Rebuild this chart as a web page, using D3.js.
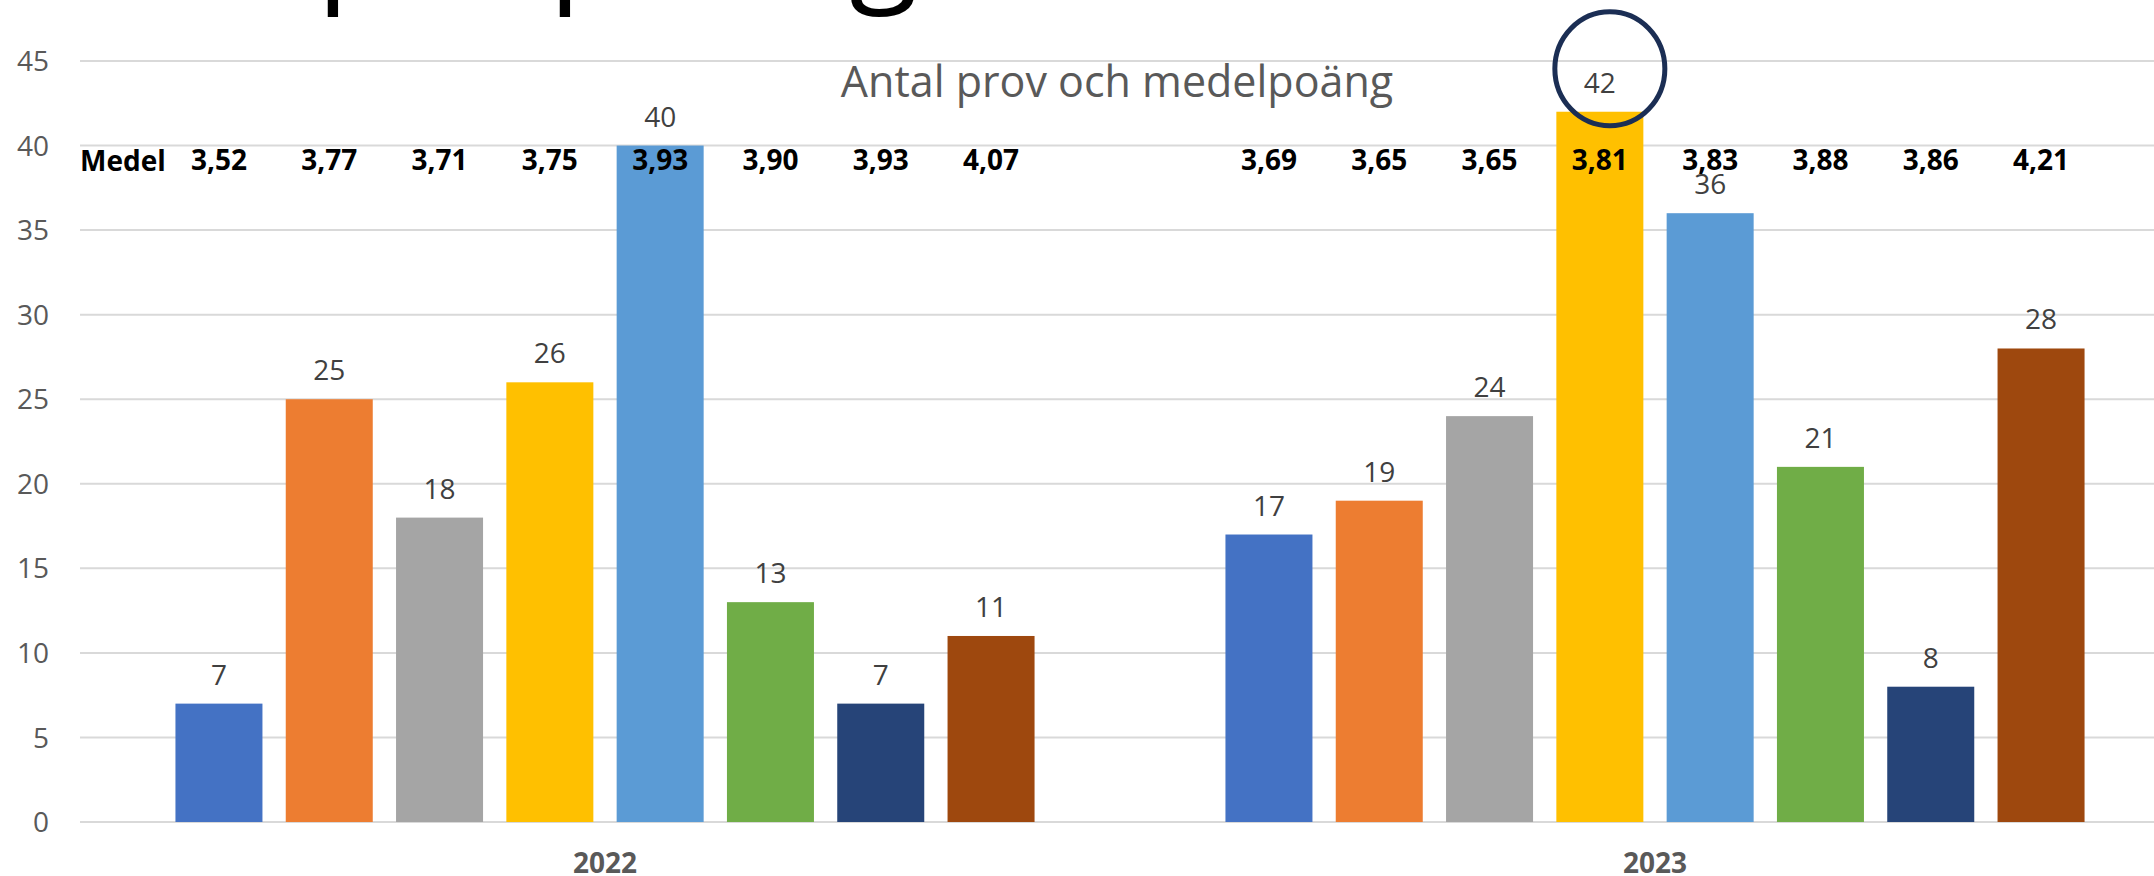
<!DOCTYPE html>
<html>
<head>
<meta charset="utf-8">
<script src="https://cdn.jsdelivr.net/npm/d3@7"></script>
<style>
  html, body { margin: 0; padding: 0; background: #ffffff; }
  svg { display: block; font-family: "Open Sans", sans-serif; }
</style>
</head>
<body>
<svg id="chart" width="2154" height="876"></svg>
<script>
// Years on the x axis
const years = ["2022", "2023"];
// Number of tests per group, one array per year
const counts2022 = [7, 25, 18, 26, 40, 13, 7, 11];
const counts2023 = [17, 19, 24, 42, 36, 21, 8, 28];
// Mean score per group, one array per year
const means2022 = ["3,52", "3,77", "3,71", "3,75", "3,93", "3,90", "3,93", "4,07"];
const means2023 = ["3,69", "3,65", "3,65", "3,81", "3,83", "3,88", "3,86", "4,21"];
// Y axis ticks
const yTicks = [0, 5, 10, 15, 20, 25, 30, 35, 40, 45];
// Bar colours, one per group
const colors = ["#4472c4", "#ed7d31", "#a5a5a5", "#ffc000", "#5b9bd5", "#70ad47", "#264478", "#9e480e"];

const countsByYear = { "2022": counts2022, "2023": counts2023 };
const meansByYear = { "2022": means2022, "2023": means2023 };
const groups = d3.range(counts2022.length);

const svg = d3.select("#chart");
const W = 2154;

// Slide heading, mostly above the visible area
const heading = svg.append("text")
  .attr("y", -13)
  .attr("font-size", 126)
  .attr("fill", "#000")
  .text("Prov per poäng");
const pIdx = "Prov per poäng".indexOf("p");
const pPos = heading.node().getStartPositionOfChar(pIdx).x;
heading.attr("x", 317 - pPos);

const y = d3.scaleLinear().domain([0, 45]).range([822, 61]);
const x0 = d3.scaleBand().domain(years).range([80, 2180]);
const x1 = d3.scaleBand().domain(groups)
  .range([83.8, 966.2]).paddingInner(0.2112).paddingOuter(0.1056);

// Gridlines
svg.append("g").selectAll("line").data(yTicks).join("line")
  .attr("x1", 80).attr("x2", W)
  .attr("y1", d => y(d)).attr("y2", d => y(d))
  .attr("stroke", "#d9d9d9").attr("stroke-width", 2);

// Y axis labels
svg.append("g").selectAll("text").data(yTicks).join("text")
  .attr("x", 49).attr("y", d => y(d)).attr("dy", "0.36em")
  .attr("text-anchor", "end").attr("font-size", 28).attr("fill", "#595959")
  .text(d => d);

// Chart title
svg.append("text")
  .attr("x", 1117).attr("y", 97)
  .attr("text-anchor", "middle").attr("font-size", 43).attr("fill", "#595959")
  .text("Antal prov och medelpoäng");

const yearG = svg.append("g").selectAll("g").data(years).join("g")
  .attr("transform", d => `translate(${x0(d)},0)`);

// Bars
yearG.selectAll("rect").data(yr => countsByYear[yr].map((v, i) => ({ v, i })))
  .join("rect")
  .attr("x", d => x1(d.i)).attr("width", x1.bandwidth())
  .attr("y", d => y(d.v)).attr("height", d => y(0) - y(d.v))
  .attr("fill", d => colors[d.i]);

// Value labels
yearG.selectAll("text.val").data(yr => countsByYear[yr].map((v, i) => ({ v, i })))
  .join("text").attr("class", "val")
  .attr("x", d => x1(d.i) + x1.bandwidth() / 2).attr("y", d => y(d.v) - 19)
  .attr("text-anchor", "middle").attr("font-size", 28).attr("fill", "#404040")
  .text(d => d.v);

// Mean score row
yearG.selectAll("text.mean").data(yr => meansByYear[yr].map((m, i) => ({ m, i })))
  .join("text").attr("class", "mean")
  .attr("x", d => x1(d.i) + x1.bandwidth() / 2).attr("y", 170)
  .attr("text-anchor", "middle").attr("font-size", 28).attr("font-weight", 700)
  .attr("fill", "#000")
  .text(d => d.m);

svg.append("text")
  .attr("x", 80).attr("y", 171)
  .attr("font-size", 28).attr("font-weight", 700).attr("fill", "#000")
  .text("Medel");

// Year labels
svg.append("g").selectAll("text").data(years).join("text")
  .attr("x", d => x0(d) + x0.bandwidth() / 2).attr("y", 873)
  .attr("text-anchor", "middle").attr("font-size", 28).attr("font-weight", 700)
  .attr("fill", "#595959")
  .text(d => d);

// Highlight ring round the largest count
const maxV = d3.max(counts2023);
const maxI = counts2023.indexOf(maxV);
svg.append("ellipse")
  .attr("cx", x0("2023") + x1(maxI) + x1.bandwidth() / 2 + 10)
  .attr("cy", y(maxV) - 43)
  .attr("rx", 55).attr("ry", 57)
  .attr("fill", "none").attr("stroke", "#1b2e54").attr("stroke-width", 5);
</script>
</body>
</html>
